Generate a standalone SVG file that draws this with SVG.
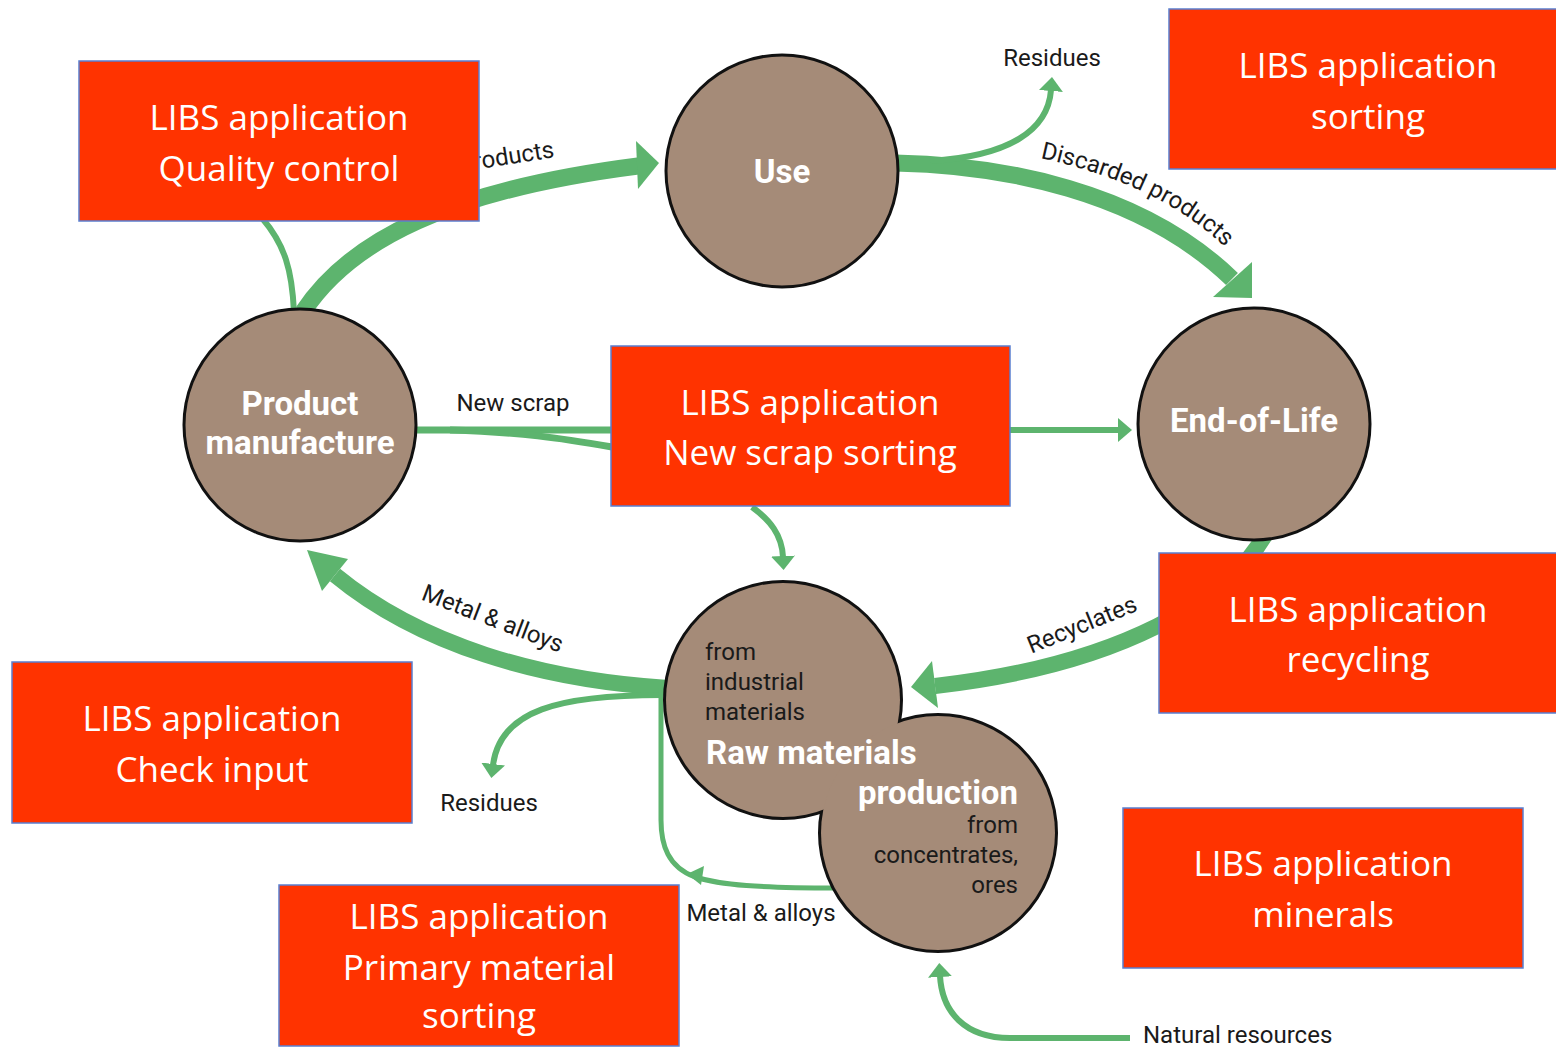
<svg xmlns="http://www.w3.org/2000/svg" width="1556" height="1048" viewBox="0 0 1556 1048">
<style>
.flow{fill:none;stroke:#5db46e;stroke-linecap:butt}
.thick{stroke-width:17}
.thin{stroke-width:6}
.head{fill:#5db46e}
.lbl{font-family:Roboto,"DejaVu Sans",sans-serif;font-size:24px;fill:#1a1a1a}
.circ{fill:#a58b78;stroke:#111;stroke-width:3}
.title{font-family:Roboto,"DejaVu Sans",sans-serif;font-size:33px;font-weight:bold;fill:#fff}
.box{fill:#ff3300;stroke:#5a7fd0;stroke-width:1.5}
.boxt{font-family:"Open Sans","Liberation Sans",sans-serif;font-size:35px;fill:#fff;text-anchor:middle}
</style>
<defs>
<marker id="ah" markerUnits="userSpaceOnUse" markerWidth="14" markerHeight="24" viewBox="0 0 14 24" refX="1" refY="12" orient="auto">
<path d="M0,0 L14,12 L0,24 z" fill="#5db46e"/>
</marker>
<path id="discPath" d="M1040,158 Q1165,185 1232,254"/>
</defs>
<g id="connectors">
<path class="flow thick" d="M303,312 C350,240 450,190 638,166"/>
<polygon class="head" points="636,141 659,163 638,189"/>
<path class="flow thin" d="M294,312 C292,270 285,245 262,218"/>
<path class="flow thick" d="M895,163 C1000,165 1140,190 1232,279"/>
<polygon class="head" points="1252,262 1252,298 1213,297"/>
<path class="flow thin" d="M930,161 C1010,156 1048,130 1051,90" marker-end="url(#ah)"/>
<path class="flow" stroke-width="7" d="M414,430 L612,430"/>
<path class="flow" stroke-width="7" d="M450,430 C520,432 560,438 612,447"/>
<path class="flow thin" d="M1010,430 L1119,430" marker-end="url(#ah)"/>
<path class="flow thin" d="M752,507 C770,520 782,535 783,557" marker-end="url(#ah)"/>
<path class="flow" stroke-width="16" d="M1268,530 C1230,600 1120,665 935,686"/>
<polygon class="head" points="932,661 911,687 938,708"/>
<path class="flow" stroke-width="16" d="M668,688 C540,680 420,645 335,575"/>
<polygon class="head" points="348,559 307,550 322,591"/>
<path class="flow thin" d="M662,695 C560,695 500,710 493,765" marker-end="url(#ah)"/>
<path class="flow" stroke-width="5" d="M836,888 C760,888 720,885 695,877 C668,867 661,845 661,820 L661,688"/>
<polygon class="head" points="687,874 704,866 701,885"/>
<path class="flow thin" d="M1130,1038 L1010,1038 C965,1038 942,1012 940,976" marker-end="url(#ah)"/>
</g>
<g id="labels">
<text class="lbl" transform="translate(555,157) rotate(-9)" text-anchor="end">Products</text>
<text class="lbl" x="1052" y="66" text-anchor="middle">Residues</text>
<text class="lbl"><textPath href="#discPath">Discarded products</textPath></text>
<text class="lbl" x="513" y="411" text-anchor="middle">New scrap</text>
<text class="lbl" transform="translate(1085,632) rotate(-22)" text-anchor="middle">Recyclates</text>
<text class="lbl" transform="translate(490,626) rotate(21)" text-anchor="middle">Metal &amp; alloys</text>
<text class="lbl" x="489" y="811" text-anchor="middle">Residues</text>
<text class="lbl" x="761" y="921" text-anchor="middle">Metal &amp; alloys</text>
<text class="lbl" x="1143" y="1043">Natural resources</text>
</g>
<g id="node-use">
<circle class="circ" cx="782" cy="171" r="116"/>
<text class="title" x="782" y="183" text-anchor="middle">Use</text>
</g>
<g id="node-product-manufacture">
<circle class="circ" cx="300" cy="425" r="116"/>
<text class="title" x="300" y="415" text-anchor="middle">Product</text>
<text class="title" x="300" y="454" text-anchor="middle">manufacture</text>
</g>
<g id="node-end-of-life">
<circle class="circ" cx="1254" cy="424" r="116"/>
<text class="title" x="1254" y="432" text-anchor="middle">End-of-Life</text>
</g>
<g id="node-raw-materials">
<circle cx="783" cy="700" r="117" fill="#a58b78" stroke="#111" stroke-width="6"/>
<circle cx="938" cy="833" r="117" fill="#a58b78" stroke="#111" stroke-width="6"/>
<circle cx="783" cy="700" r="117" fill="#a58b78"/>
<circle cx="938" cy="833" r="117" fill="#a58b78"/>
<text class="lbl" x="705" y="660">from</text>
<text class="lbl" x="705" y="690">industrial</text>
<text class="lbl" x="705" y="720">materials</text>
<text class="title" x="706" y="764">Raw materials</text>
<text class="title" x="1018" y="804" text-anchor="end">production</text>
<text class="lbl" x="1018" y="833" text-anchor="end">from</text>
<text class="lbl" x="1018" y="863" text-anchor="end">concentrates,</text>
<text class="lbl" x="1018" y="893" text-anchor="end">ores</text>
</g>
<g id="box-quality-control">
<rect class="box" x="79" y="61" width="400" height="160"/>
<text class="boxt" x="279" y="130">LIBS application</text>
<text class="boxt" x="279" y="181">Quality control</text>
</g>
<g id="box-sorting">
<rect class="box" x="1169" y="9" width="390" height="160"/>
<text class="boxt" x="1368" y="78">LIBS application</text>
<text class="boxt" x="1368" y="129">sorting</text>
</g>
<g id="box-new-scrap-sorting">
<rect class="box" x="611" y="346" width="399" height="160"/>
<text class="boxt" x="810" y="415">LIBS application</text>
<text class="boxt" x="810" y="465">New scrap sorting</text>
</g>
<g id="box-recycling">
<rect class="box" x="1159" y="553" width="400" height="160"/>
<text class="boxt" x="1358" y="622">LIBS application</text>
<text class="boxt" x="1358" y="672">recycling</text>
</g>
<g id="box-check-input">
<rect class="box" x="12" y="662" width="400" height="161"/>
<text class="boxt" x="212" y="731">LIBS application</text>
<text class="boxt" x="212" y="782">Check input</text>
</g>
<g id="box-primary-material-sorting">
<rect class="box" x="279" y="885" width="400" height="161"/>
<text class="boxt" x="479" y="929">LIBS application</text>
<text class="boxt" x="479" y="980">Primary material</text>
<text class="boxt" x="479" y="1028">sorting</text>
</g>
<g id="box-minerals">
<rect class="box" x="1123" y="808" width="400" height="160"/>
<text class="boxt" x="1323" y="876">LIBS application</text>
<text class="boxt" x="1323" y="927">minerals</text>
</g>
</svg>
